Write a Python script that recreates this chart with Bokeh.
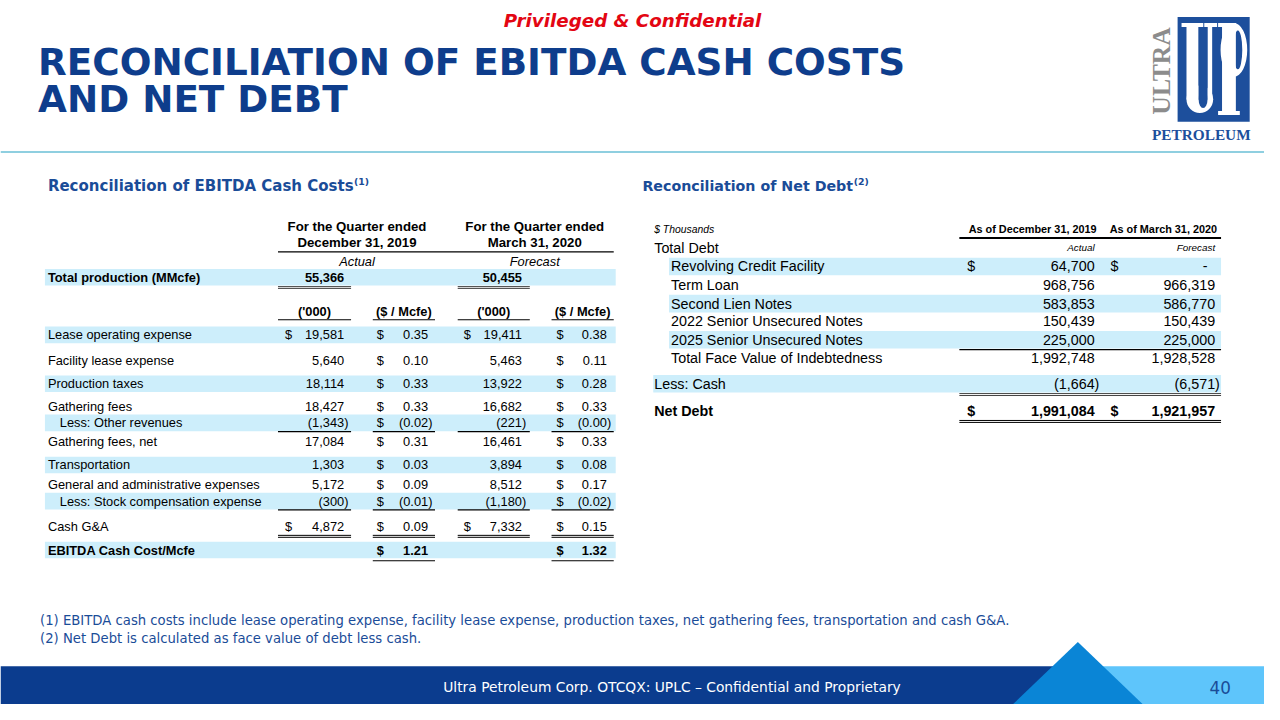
import math
from bokeh.plotting import figure
from bokeh.models import Range1d
from bokeh.core.properties import value
from bokeh.embed import file_html
from bokeh.resources import INLINE

# ---------------- data ----------------
title_lines = ["RECONCILIATION OF EBITDA CASH COSTS", "AND NET DEBT"]
banner = "Privileged & Confidential"
left_heading = "Reconciliation of EBITDA Cash Costs"
right_heading = "Reconciliation of Net Debt"
heading_notes = ["(1)", "(2)"]

period_headers = [["For the Quarter ended", "December 31, 2019"], ["For the Quarter ended", "March 31, 2020"]]
period_status = ["Actual", "Forecast"]
unit_headers = ["('000)", "($ / Mcfe)", "('000)", "($ / Mcfe)"]
production_label = "Total production (MMcfe)"
production = [55366, 50455]

cost_labels = ["Lease operating expense", "Facility lease expense", "Production taxes", "Gathering fees",
               "Less:  Other revenues", "Gathering fees, net", "Transportation",
               "General and administrative expenses", "Less:  Stock compensation expense", "Cash G&A",
               "EBITDA Cash Cost/Mcfe"]
dec_000 = [19581, 5640, 18114, 18427, -1343, 17084, 1303, 5172, -300, 4872, None]
dec_mcfe = [0.35, 0.10, 0.33, 0.33, -0.02, 0.31, 0.03, 0.09, -0.01, 0.09, 1.21]
mar_000 = [19411, 5463, 13922, 16682, -221, 16461, 3894, 8512, -1180, 7332, None]
mar_mcfe = [0.38, 0.11, 0.28, 0.33, -0.00, 0.33, 0.08, 0.17, -0.02, 0.15, 1.32]

debt_units = "$ Thousands"
debt_headers = ["As of December 31, 2019", "As of March 31, 2020"]
debt_status = ["Actual", "Forecast"]
debt_labels = ["Revolving Credit Facility", "Term Loan", "Second Lien Notes",
               "2022 Senior Unsecured Notes", "2025 Senior Unsecured Notes"]
debt_dec = [64700, 968756, 583853, 150439, 225000]
debt_mar = [0, 966319, 586770, 150439, 225000]
total_face = [1992748, 1928528]
less_cash = [-1664, -6571]
net_debt = [1991084, 1921957]

footnotes = ["(1) EBITDA cash costs include lease operating expense, facility lease expense, production taxes, net gathering fees, transportation and cash G&A.",
             "(2) Net Debt is calculated as face value of debt less cash."]
footer = "Ultra Petroleum Corp. OTCQX: UPLC \u2013 Confidential and Proprietary"
page_no = "40"

# ---------------- layout / style ----------------
BLUE = "#1a4c98"
TITLE_BLUE = "#0e3d8c"
BAND = "#cdeefb"
SANS = "DejaVu Sans"
ARIAL = "Liberation Sans"
SERIF = "Liberation Serif"
PW, PH = 1264, 704
S = PW / 1280.0

p = figure(width=PW, height=PH, x_range=Range1d(0, 1280), y_range=Range1d(0, 720),
           x_axis_type=None, y_axis_type=None, output_backend="svg", toolbar_location=None,
           min_border=0, background_fill_color="white", border_fill_color="white")
p.outline_line_color = None
p.grid.visible = False


def Y(v):
    return 720 - v


def T(x, y, s, size, color="black", font=ARIAL, style="normal", align="left", angle=0.0):
    p.text(x=[x], y=[Y(y)], text=[s], text_font=value(font), text_font_size=f"{size * S:.2f}px",
           text_color=color, text_font_style=style, text_align=align, text_baseline="middle",
           angle=angle)


def box(x0, x1, y0, y1, color):
    p.quad(left=[x0], right=[x1], top=[Y(y0)], bottom=[Y(y1)], fill_color=color, line_color=None)


def band(x0, x1, yc, h=9, color=BAND):
    box(x0, x1, yc - h, yc + h, color)


def hline(x0, x1, y, color="black", w=1.0):
    p.segment(x0=[x0], y0=[Y(y)], x1=[x1], y1=[Y(y)], line_color=color, line_width=w)


def fmt_int(v):
    s = f"{abs(v):,}"
    return f"({s})" if v < 0 else s


def fmt_dec(v):
    s = f"{abs(v):.2f}"
    return f"({s})" if math.copysign(1, v) < 0 else s


def neg(v):
    return math.copysign(1, v) < 0


# ---------------- header ----------------
T(640, 20, banner, 18.5, color="#e30613", font=SANS, style="bold italic", align="center")
T(38, 63, title_lines[0], 37.8, color=TITLE_BLUE, font=SANS, style="bold")
T(38, 101, title_lines[1], 37.8, color=TITLE_BLUE, font=SANS, style="bold")
hline(0, 1280, 155, color="#8fcfe0", w=2)

# logo
LB = "#1d4f9c"
W = "white"
box(1192, 1265, 17, 124, LB)
p.ellipse(x=[1214.5], y=[Y(101)], width=[27], height=[28], fill_color=W, line_color=None)
box(1213, 1222.5, 26, 101, LB)
p.ellipse(x=[1217.8], y=[Y(101)], width=[9], height=[18], fill_color=LB, line_color=None)
box(1201, 1213, 26, 101, W)
box(1222.5, 1227, 26, 101, W)
box(1196, 1218, 23, 27, W)
box(1219, 1232, 23, 27, W)
p.ellipse(x=[1249], y=[Y(50.5)], width=[27], height=[55], fill_color=W, line_color=None)
p.ellipse(x=[1253], y=[Y(50.5)], width=[9], height=[40], fill_color=LB, line_color=None)
box(1237, 1251, 23, 115, W)
box(1233, 1255, 113, 117, W)
box(1233, 1251, 23, 27, W)
T(1176, 72, "ULTRA", 26, color="#8c8c8c", font=SERIF, style="bold", align="center", angle=math.pi / 2)
T(1216, 137, "PETROLEUM", 15.5, color=LB, font=SERIF, style="bold", align="center")

T(48, 190, left_heading, 15.2, color=BLUE, font=SANS, style="bold")
T(358, 185, heading_notes[0], 9.5, color=BLUE, font=SANS, style="bold")
T(650, 190, right_heading, 14.4, color=BLUE, font=SANS, style="bold")
T(864, 185, heading_notes[1], 9.5, color=BLUE, font=SANS, style="bold")

# ---------------- left table ----------------
col_span = [(281, 355), (377, 440), (463, 536), (558, 621)]
col_dollar = [288, 381, 469, 563]
col_right = [348, 433, 528, 614]
group_center = [361, 541]
row_y = [342, 368, 392, 415, 432, 451, 475, 495, 512, 538, 562]
band_rows = [0, 2, 4, 6, 8, 10]
indent_rows = [4, 8]
dollar_rows_000 = [0, 9]
FS = 13
PAREN = 4.4

for g in range(2):
    T(group_center[g], 231, period_headers[g][0], 13.4, style="bold", align="center")
    T(group_center[g], 247, period_headers[g][1], 13.4, style="bold", align="center")
    T(group_center[g], 267, period_status[g], FS, style="italic", align="center")
hline(281, 621, 257, w=1.3)

band(45, 623, 283, h=8.5)
T(48, 283, production_label, FS, style="bold")
for g in range(2):
    c = col_span[2 * g]
    T(col_right[2 * g], 283, f"{production[g]:,}", FS, style="bold", align="right")
    hline(c[0], c[1], 292.5, color="#555555", w=1.2)
    hline(c[0], c[1], 294.5, color="#555555", w=1.2)

for k in range(4):
    T((col_span[k][0] + col_span[k][1]) / 2, 318, unit_headers[k], FS, style="bold", align="center")
    hline(col_span[k][0], col_span[k][1], 326.5, w=1.2)

for i, lab in enumerate(cost_labels):
    y = row_y[i]
    if i in band_rows:
        band(45, 623, y, h=8.5)
    style = "bold" if i == len(cost_labels) - 1 else "normal"
    T(60 if i in indent_rows else 48, y, lab, FS, style=style)
    vals = [dec_000[i], dec_mcfe[i], mar_000[i], mar_mcfe[i]]
    for k, v in enumerate(vals):
        if v is None:
            continue
        is_000 = k in (0, 2)
        s = fmt_int(v) if is_000 else fmt_dec(v)
        rx = col_right[k] + (PAREN if neg(v) else 0)
        T(rx, y, s, FS, style=style, align="right")
        if (not is_000) or i in dollar_rows_000:
            T(col_dollar[k], y, "$", FS, style=style)

for i in indent_rows:
    for c in col_span:
        hline(c[0], c[1], row_y[i] + 9, w=1.2)
for c in col_span:
    hline(c[0], c[1], row_y[9] + 9, w=1.0)
    hline(c[0], c[1], row_y[9] + 11, w=1.0)
for k in (1, 3):
    hline(col_span[k][0], col_span[k][1], row_y[10] + 11, w=1.2)

# ---------------- right table ----------------
RFS = 14.5
RP = 4.8
r_dollar = [979, 1124]
r_right = [1108, 1230]
r_rows = [272, 291, 310, 328, 347]
T(662, 234, debt_units, 10.5, style="italic")
for g in range(2):
    T(r_right[g] + 2, 234, debt_headers[g], 11, style="bold", align="right")
    T(r_right[g], 253, debt_status[g], 10, style="italic", align="right")
hline(971, 1236, 243, w=2)
T(662, 253, "Total Debt", RFS)
for i, lab in enumerate(debt_labels):
    y = r_rows[i]
    if i % 2 == 0:
        band(677, 1236, y, h=9)
    T(679, y, lab, RFS)
    for g, v in enumerate([debt_dec[i], debt_mar[i]]):
        if v == 0:
            T(r_right[g] - 10, y, "-", RFS, align="center")
        else:
            T(r_right[g], y, fmt_int(v), RFS, align="right")
        if i == 0:
            T(r_dollar[g], y, "$", RFS)
hline(971, 1236, 357, w=1.3)
T(679, 366, "Total Face Value of Indebtedness", RFS)
for g in range(2):
    T(r_right[g], 366, fmt_int(total_face[g]), RFS, align="right")

band(661, 1236, 392, h=9)
T(662, 392, "Less:  Cash", RFS)
for g in range(2):
    T(r_right[g] + RP, 392, fmt_int(less_cash[g]), RFS, align="right")
hline(971, 1236, 402, color="#444444", w=1)
hline(971, 1236, 404, color="#444444", w=1)

T(662, 420, "Net Debt", RFS, style="bold")
for g in range(2):
    T(r_right[g], 420, fmt_int(net_debt[g]), RFS, style="bold", align="right")
    T(r_dollar[g], 420, "$", RFS, style="bold")
hline(971, 1236, 429.5, w=1)
hline(971, 1236, 431.5, w=1)

# ---------------- footnotes & footer ----------------
T(40, 634, footnotes[0], 13.4, color=BLUE, font=SANS)
T(40, 653, footnotes[1], 13.4, color=BLUE, font=SANS)

box(0, 1070, 681, 720, "#0b3c8e")
box(1070, 1280, 681, 720, "#5ec5fb")
p.patch(x=[1025, 1091, 1157], y=[Y(720), Y(656), Y(720)], fill_color="#0a85d6", line_color=None)
T(680, 702, footer, 14, color="white", font=SANS, align="center")
T(1246, 703, page_no, 17, color=BLUE, font=SANS, align="right")

open("out.html", "w").write(file_html(p, INLINE))
